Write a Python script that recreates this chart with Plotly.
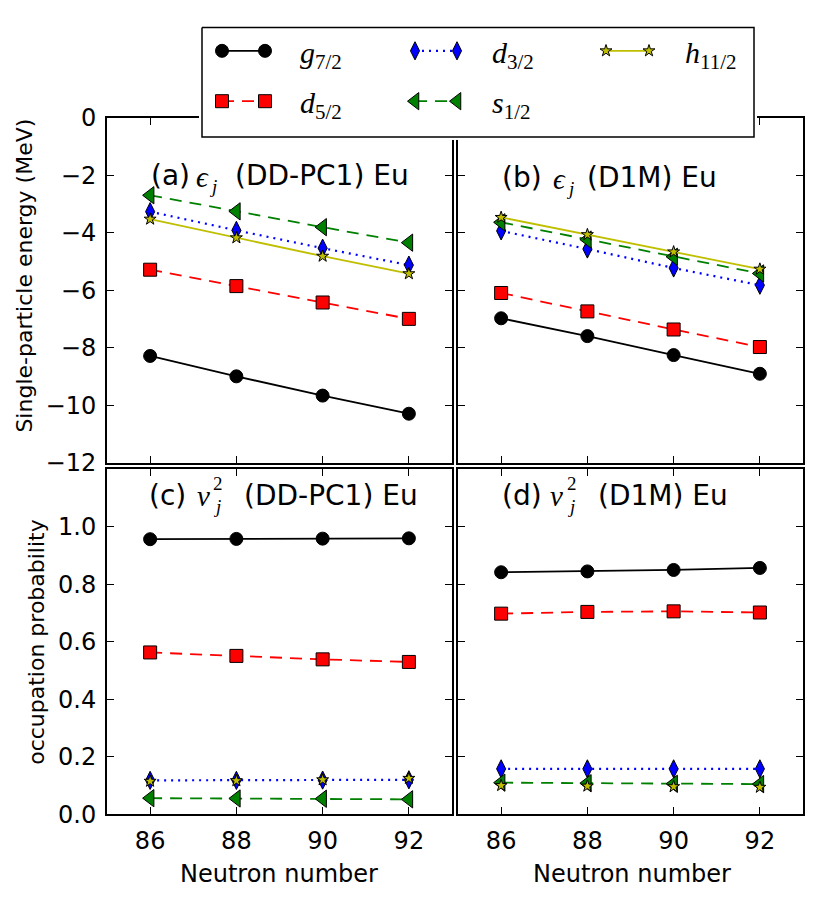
import plotly.graph_objects as go

W, H = 819, 899

# ---------------- data ----------------
neutrons = [86, 88, 90, 92]

# (a) single-particle energies, DD-PC1 (MeV)
a_g72 = [-8.29, -9.00, -9.67, -10.30]
a_d52 = [-5.29, -5.86, -6.43, -7.00]
a_d32 = [-3.27, -3.92, -4.54, -5.13]
a_s12 = [-2.70, -3.26, -3.81, -4.35]
a_h112 = [-3.53, -4.18, -4.82, -5.43]

# (b) single-particle energies, D1M (MeV)
b_g72 = [-6.98, -7.60, -8.26, -8.91]
b_d52 = [-6.10, -6.74, -7.37, -7.98]
b_d32 = [-3.94, -4.57, -5.23, -5.83]
b_s12 = [-3.64, -4.24, -4.84, -5.42]
b_h112 = [-3.47, -4.07, -4.67, -5.27]

# (c) occupation probabilities, DD-PC1
c_g72 = [0.957, 0.958, 0.959, 0.960]
c_d52 = [0.563, 0.551, 0.539, 0.530]
c_d32 = [0.118, 0.118, 0.119, 0.120]
c_s12 = [0.056, 0.055, 0.054, 0.052]
c_h112 = [0.115, 0.117, 0.120, 0.125]

# (d) occupation probabilities, D1M
d_g72 = [0.842, 0.845, 0.850, 0.857]
d_d52 = [0.698, 0.704, 0.706, 0.702]
d_d32 = [0.158, 0.158, 0.158, 0.158]
d_s12 = [0.110, 0.108, 0.106, 0.105]
d_h112 = [0.100, 0.098, 0.096, 0.094]

energy_ticks = [0, -2, -4, -6, -8, -10, -12]
energy_labels = ["0", "\u22122", "\u22124", "\u22126", "\u22128", "\u221210", "\u221212"]
occ_ticks = [0.0, 0.2, 0.4, 0.6, 0.8, 1.0]
occ_labels = ["0.0", "0.2", "0.4", "0.6", "0.8", "1.0"]

# ---------------- styles ----------------
styles = {
    "g72": dict(line=dict(color="black", width=1.8, dash="solid"),
                marker=dict(symbol="circle", size=13, color="black",
                            line=dict(color="black", width=1))),
    "d52": dict(line=dict(color="#ff0000", width=1.8, dash="12px,8px"),
                marker=dict(symbol="square", size=13, color="#ff0000",
                            line=dict(color="black", width=1))),
    "d32": dict(line=dict(color="#0000ff", width=2.2, dash="2px,5px"),
                marker=dict(symbol="diamond-tall", size=13, color="#0000ff",
                            line=dict(color="black", width=1))),
    "s12": dict(line=dict(color="#008000", width=1.8, dash="12px,8px"),
                marker=dict(symbol="triangle-left", size=15, color="#008000",
                            line=dict(color="black", width=1))),
    "h112": dict(line=dict(color="#bfbf00", width=1.8, dash="solid"),
                 marker=dict(symbol="star", size=9, color="#bfbf00",
                             line=dict(color="black", width=1))),
}
order = ["g72", "d52", "d32", "s12", "h112"]

# (x axis, y axis, series, draw h11/2 connecting line?)
panels = [
    ("x", "y", dict(g72=a_g72, d52=a_d52, d32=a_d32, s12=a_s12, h112=a_h112), True),
    ("x2", "y2", dict(g72=b_g72, d52=b_d52, d32=b_d32, s12=b_s12, h112=b_h112), True),
    ("x3", "y3", dict(g72=c_g72, d52=c_d52, d32=c_d32, s12=c_s12, h112=c_h112), False),
    ("x4", "y4", dict(g72=d_g72, d52=d_d52, d32=d_d32, s12=d_s12, h112=d_h112), False),
]

fig = go.Figure()
for xa, ya, series, hline in panels:
    for key in order:
        st = styles[key]
        mode = "lines+markers"
        if key == "h112" and not hline:
            mode = "markers"
        fig.add_trace(go.Scatter(x=neutrons, y=series[key], xaxis=xa, yaxis=ya,
                                 mode=mode, line=st["line"],
                                 marker=st["marker"], showlegend=False,
                                 cliponaxis=False, hoverinfo="skip"))

# ---------------- layout helpers ----------------
def px_x(v):
    return v / W

def px_y(v):
    return 1 - v / H

LX = [px_x(107), px_x(452)]
RX = [px_x(458), px_x(803)]
TY = [px_y(463), px_y(107)]
BY = [px_y(826), px_y(470)]

tickfont = dict(family="DejaVu Sans", size=24, color="black")

def xax(domain, anchor, labels):
    return dict(domain=domain, anchor=anchor, range=[85, 93], tickvals=neutrons,
                ticktext=[str(n) for n in neutrons], showticklabels=labels,
                ticks="inside", ticklen=7, tickwidth=1, tickcolor="black",
                showline=True, linewidth=2, linecolor="black", mirror="allticks",
                showgrid=False, zeroline=False, tickfont=tickfont,
                ticklabelstandoff=4)

def yax(domain, anchor, rng, tv, tt, labels):
    return dict(domain=domain, anchor=anchor, range=rng, tickvals=tv, ticktext=tt,
                showticklabels=labels, ticks="inside", ticklen=7, tickwidth=1,
                tickcolor="black", showline=True, linewidth=2, linecolor="black",
                mirror="allticks", showgrid=False, zeroline=False, tickfont=tickfont,
                ticklabelstandoff=4)

layout = dict(
    width=W, height=H, autosize=False,
    margin=dict(l=0, r=0, t=0, b=0),
    paper_bgcolor="white", plot_bgcolor="white",
    showlegend=False,
    xaxis=xax(LX, "y", False),
    yaxis=yax(TY, "x", [-12, 0], energy_ticks, energy_labels, True),
    xaxis2=xax(RX, "y2", False),
    yaxis2=yax(TY, "x2", [-12, 0], energy_ticks, energy_labels, False),
    xaxis3=xax(LX, "y3", True),
    yaxis3=yax(BY, "x3", [0, 1.2], occ_ticks, occ_labels, True),
    xaxis4=xax(RX, "y4", True),
    yaxis4=yax(BY, "x4", [0, 1.2], occ_ticks, occ_labels, False),
    # legend box axis: 1 unit = 1 pixel
    xaxis5=dict(domain=[px_x(199), px_x(757)], anchor="y5", range=[199, 757],
                visible=False, fixedrange=True),
    yaxis5=dict(domain=[px_y(130), px_y(11)], anchor="x5", range=[130, 11],
                visible=False, fixedrange=True),
)
fig.update_layout(**layout)

# legend box (white, covering the panels)
fig.add_trace(go.Scatter(x=[202, 754, 754, 202, 202], y=[14, 14, 127, 127, 14],
                         xaxis="x5", yaxis="y5", mode="lines", fill="toself",
                         fillcolor="white", line=dict(color="black", width=1.5),
                         showlegend=False, hoverinfo="skip"))

legend_items = [
    ("g72", 222, 265, 38, "<i>g</i><sub>7/2</sub>", 298),
    ("d52", 222, 265, 90, "<i>d</i><sub>5/2</sub>", 298),
    ("d32", 415, 457, 38, "<i>d</i><sub>3/2</sub>", 490),
    ("s12", 415, 457, 90, "<i>s</i><sub>1/2</sub>", 490),
    ("h112", 606, 649, 38, "<i>h</i><sub>11/2</sub>", 683),
]
serif = "Liberation Serif, DejaVu Serif, serif"
annotations = []
for key, x0, x1, yy, label, tx in legend_items:
    st = styles[key]
    fig.add_trace(go.Scatter(x=[x0, x1], y=[yy, yy], xaxis="x5", yaxis="y5",
                             mode="lines+markers", line=st["line"],
                             marker=st["marker"], showlegend=False,
                             cliponaxis=False, hoverinfo="skip"))
    annotations.append(dict(x=tx, y=yy + 4, xref="x5", yref="y5", text=label,
                            showarrow=False, xanchor="left", yanchor="middle",
                            font=dict(family=serif, size=30, color="black")))

sans = "DejaVu Sans"
tfont = dict(family=sans, size=28, color="black")
mfont = dict(family=serif, size=29, color="black")
sfont = dict(family=serif, size=19, color="black")

def ann(x, y, text, font, xanchor="left"):
    annotations.append(dict(x=px_x(x), y=px_y(y), xref="paper", yref="paper",
                            text=text, showarrow=False, xanchor=xanchor,
                            yanchor="middle", font=font))

# panel titles, pieced together
titles = [
    # (x_label, label, x_math, math, sup, sub_x, x_rest, rest, y)
    (149, "(a)", 194, "\u03f5", None, 207, 233, "(DD-PC1) Eu", 167),
    (500, "(b)", 551, "\u03f5", None, 564, 585, "(D1M) Eu", 169),
    (147, "(c)", 195, "v", "2", 211, 242, "(DD-PC1) Eu", 497),
    (500, "(d)", 548, "v", "2", 565, 596, "(D1M) Eu", 497),
]
for xl, lab, xm, math, sup, xs, xr, rest, yy in titles:
    ann(xl, yy, lab, tfont)
    ann(xm, yy + 1, "<i>" + math + "</i>", mfont)
    ann(xs, yy + 11, "<i>j</i>", sfont)
    if sup:
        ann(xs, yy - 12, sup, sfont)
    ann(xr, yy, rest, tfont)

# axis titles
lab_font = dict(family=sans, size=24, color="black")
ann(279, 888, "Neutron number", lab_font, "center")
ann(632, 888, "Neutron number", lab_font, "center")
annotations.append(dict(x=px_x(25), y=px_y(270), xref="paper", yref="paper",
                        text="Single-particle energy (MeV)", showarrow=False,
                        textangle=-90, xanchor="center", yanchor="middle",
                        font=dict(family=sans, size=22, color="black")))
annotations.append(dict(x=px_x(37), y=px_y(648), xref="paper", yref="paper",
                        text="occupation probability", showarrow=False,
                        textangle=-90, xanchor="center", yanchor="middle",
                        font=dict(family=sans, size=22, color="black")))

fig.update_layout(annotations=annotations)
fig.write_html("out.html")
